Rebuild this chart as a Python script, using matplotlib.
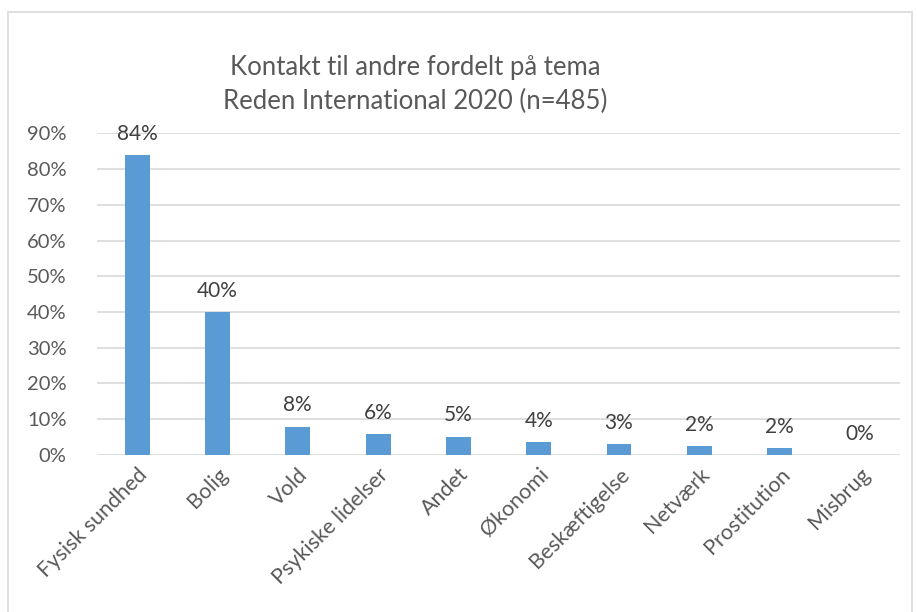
import matplotlib.pyplot as plt
from matplotlib.patches import Rectangle
import numpy as np

categories = ['Fysisk sundhed', 'Bolig', 'Vold', 'Psykiske lidelser', 'Andet',
              'Økonomi', 'Beskæftigelse', 'Netværk', 'Prostitution', 'Misbrug']
values = [0.84, 0.40, 0.079, 0.058, 0.051, 0.036, 0.029, 0.025, 0.019, 0.0]
labels = ['84%', '40%', '8%', '6%', '5%', '4%', '3%', '2%', '2%', '0%']
yticks = [0.0, 0.1, 0.2, 0.3, 0.4, 0.5, 0.6, 0.7, 0.8, 0.9]

plt.rcParams['font.family'] = ['Lato', 'DejaVu Sans']
grey = '#595959'

fig = plt.figure(figsize=(9.17, 6.12), dpi=100)
ax = fig.add_axes([0.1058, 0.257, 0.8757, 0.525])

# outer chart border
fig.patches.append(Rectangle((8 / 917, -0.05), 904 / 917, 1 - 12 / 612 + 0.05,
                             transform=fig.transFigure, fill=False,
                             edgecolor='#d9d9d9', linewidth=1.2))

x = np.arange(len(categories))
ax.bar(x, values, width=0.31, color='#5b9bd5', zorder=3)
for xi, v, lab in zip(x, values, labels):
    ax.annotate(lab, (xi, v), xytext=(0, 8), textcoords='offset points',
                ha='center', va='bottom', fontsize=15, color='#404040')

ax.set_xlim(-0.5, len(categories) - 0.5)
ax.set_ylim(0, 0.9)
ax.set_yticks(yticks)
ax.set_yticklabels([f'{int(round(t * 100))}%' for t in yticks])
ax.grid(axis='y', color='#d9d9d9', linewidth=1.2, zorder=0)
for s in ax.spines.values():
    s.set_visible(False)
ax.tick_params(axis='both', length=0, labelsize=14.5, colors=grey)
ax.tick_params(axis='y', pad=22)

ax.set_xticks(x)
ax.set_xticklabels(categories, rotation=45, ha='right', va='top',
                   rotation_mode='anchor', fontsize=15.5)
ax.tick_params(axis='x', pad=7)

fig.text(0.453, 0.889, 'Kontakt til andre fordelt på tema', ha='center',
         va='center', fontsize=18.5, color=grey)
fig.text(0.453, 0.834, 'Reden International 2020 (n=485)', ha='center',
         va='center', fontsize=18.5, color=grey)

fig.savefig('out.png', dpi=100)
